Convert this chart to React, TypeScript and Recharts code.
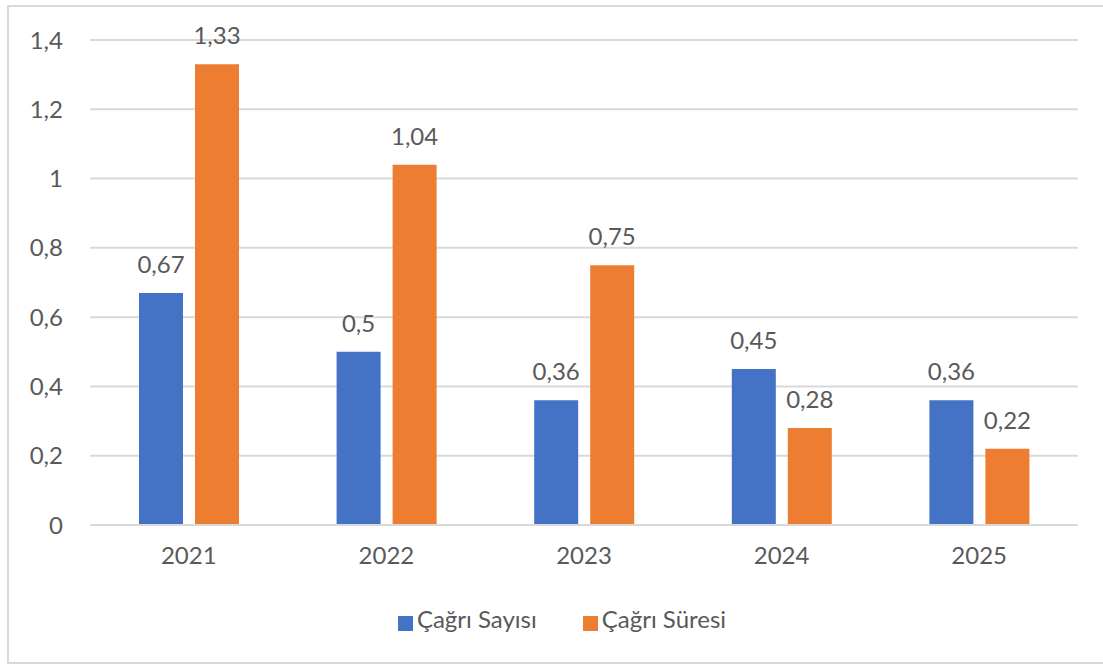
import React from 'react';
import { BarChart, Bar, XAxis, YAxis, CartesianGrid, Legend, LabelList } from 'recharts';

const years = ['2021', '2022', '2023', '2024', '2025'];
const cagriSayisi = [0.67, 0.5, 0.36, 0.45, 0.36];
const cagriSuresi = [1.33, 1.04, 0.75, 0.28, 0.22];
const yTicks = [0, 0.2, 0.4, 0.6, 0.8, 1, 1.2, 1.4];

const data = years.map((y, i) => ({ year: y, sayi: cagriSayisi[i], sure: cagriSuresi[i] }));

const fmt = (v: any) => String(v).replace('.', ',');
const FONT = 'Lato, "Open Sans", sans-serif';
const TEXT = '#595959';

export default function App() {
  return (
    <div style={{ position: 'absolute', left: 0, top: 0, width: 1103, height: 666, overflow: 'hidden', background: '#fff', fontFamily: FONT }}>
      <div style={{ position: 'absolute', left: 7, top: 5, width: 1120, height: 659, border: '2px solid #d9d9d9', boxSizing: 'border-box' }} />
      <div style={{ position: 'absolute', left: 0, top: 0 }}>
        <BarChart
          width={1103}
          height={666}
          data={data}
          margin={{ top: 40, right: 25, left: 0, bottom: 32 }}
          barSize={44}
          barGap={12}
        >
          <CartesianGrid vertical={false} stroke="#d9d9d9" strokeWidth={2} />
          <XAxis
            dataKey="year"
            height={79}
            axisLine={{ stroke: '#d9d9d9', strokeWidth: 2 }}
            tickLine={false}
            tickSize={0}
            tickMargin={22}
            tick={{ fill: TEXT, fontSize: 24, fontFamily: FONT }}
          />
          <YAxis
            width={90}
            domain={[0, 1.4]}
            ticks={yTicks}
            axisLine={false}
            tickLine={false}
            tickSize={0}
            tickMargin={27}
            tickFormatter={fmt}
            tick={{ fill: TEXT, fontSize: 24, fontFamily: FONT }}
          />
          <Legend
            verticalAlign="bottom"
            align="center"
            iconType="square"
            iconSize={15}
            wrapperStyle={{ lineHeight: '30px', height: 30, paddingLeft: 46 }}
            formatter={(value: any) => <span style={{ color: TEXT, fontSize: 24, fontFamily: FONT, marginRight: 36 }}>{value}</span>}
          />
          <Bar dataKey="sayi" name="Çağrı Sayısı" fill="#4472C4" isAnimationActive={false}>
            <LabelList dataKey="sayi" position="top" offset={20} formatter={fmt} fill={TEXT} fontSize={24} fontFamily={FONT} />
          </Bar>
          <Bar dataKey="sure" name="Çağrı Süresi" fill="#ED7D31" isAnimationActive={false}>
            <LabelList dataKey="sure" position="top" offset={20} formatter={fmt} fill={TEXT} fontSize={24} fontFamily={FONT} />
          </Bar>
        </BarChart>
      </div>
    </div>
  );
}
